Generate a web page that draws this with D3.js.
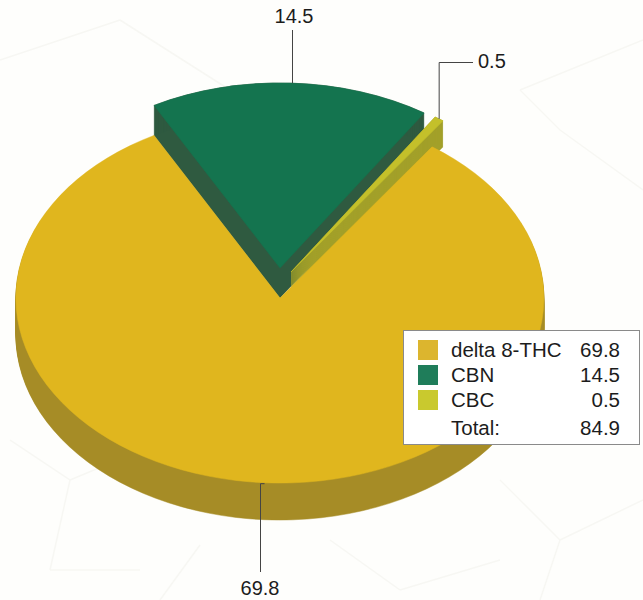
<!DOCTYPE html>
<html>
<head>
<meta charset="utf-8">
<script src="https://cdn.jsdelivr.net/npm/d3@7"></script>
<style>
  html, body { margin: 0; padding: 0; background: #fefefc; }
  text { font-family: "Liberation Sans", Arial, sans-serif; fill: #1c1c1c; }
</style>
</head>
<body>
<div id="chart"></div>
<script>
const categories = ["delta 8-THC", "CBN", "CBC"];
const values = [69.8, 14.5, 0.5];
const topColors = ["#e0b61e", "#14744f", "#c4c02a"];
const wallColors = ["#a68c26", "#2f5a40", "#a3a02a"];
const legendColors = ["#dcb52e", "#1f7d5a", "#c9c92e"];
const totalLabel = "Total:";
const totalValue = 84.9;

let width = 643, height = 600;
let svg = d3.select("#chart").append("svg")
    .attr("width", width)
    .attr("height", height);

// ellipse of the disc, squashed circle of radius 1
const cx = 280, cy = 298, rx = 264, ry = 185;
const thickness = 37;
// how far each slice stands above the disc, and its sideways shift
const raise = [0, 30, 26];
const shift = [0, 0, 11];

const startDeg = 35.2;
let pie = d3.pie().sort(null)
    .startAngle(startDeg * Math.PI / 180)
    .endAngle((startDeg + 360) * Math.PI / 180);
let slices = pie(values);
let arc = d3.arc().innerRadius(0).outerRadius(1);

// faint paper pattern behind the disc
const paperLines = [
    [0, 60, 120, 20], [120, 20, 230, 90], [230, 90, 130, 150], [520, 90, 643, 40],
    [560, 130, 643, 190], [520, 90, 560, 130], [10, 440, 70, 480], [70, 480, 130, 455],
    [70, 480, 50, 570], [50, 570, 140, 570], [200, 545, 160, 600], [330, 540, 400, 590],
    [400, 590, 500, 560], [500, 480, 560, 540], [560, 540, 643, 500], [560, 540, 540, 600]
];
svg.append("g").selectAll("line")
    .data(paperLines)
    .enter().append("line")
    .attr("x1", d => d[0]).attr("y1", d => d[1])
    .attr("x2", d => d[2]).attr("y2", d => d[3])
    .attr("stroke", "#f7f7f3")
    .attr("stroke-width", 1.5);

// thin stroke keeps the narrow tip of the smallest slice from fading out
function wedge(parent, d, color, x, y) {
    parent.append("path")
        .attr("d", arc(d))
        .attr("transform", `translate(${x},${y}) scale(${rx},${ry})`)
        .attr("fill", color)
        .attr("stroke", color)
        .attr("stroke-width", 0.5)
        .attr("vector-effect", "non-scaling-stroke");
}

// walls are built by stacking the wedge one pixel at a time
function drawWalls(i, from, to) {
    let g = svg.append("g");
    for (let y = from; y <= to; y++) {
        wedge(g, slices[i], wallColors[i], cx + shift[i], cy + y);
    }
}

drawWalls(0, 1, thickness);
drawWalls(1, -raise[1], 0);
wedge(svg, slices[1], topColors[1], cx, cy - raise[1]);
drawWalls(2, -raise[2], 0);
wedge(svg, slices[2], topColors[2], cx + shift[2], cy - raise[2]);
wedge(svg, slices[0], topColors[0], cx, cy);

// leader lines start at the middle of each slice's outer edge
function anchor(i) {
    let mid = (slices[i].startAngle + slices[i].endAngle) / 2;
    return [cx + shift[i] + rx * Math.sin(mid), cy - raise[i] - ry * Math.cos(mid)];
}

let leaders = svg.append("g")
    .attr("fill", "none")
    .attr("stroke", "#444")
    .attr("stroke-width", 1);
let labels = svg.append("g").attr("font-size", 20);

let a = anchor(0);
leaders.append("path").attr("d", `M${a[0]},${a[1] + 1}H260.5V572`);
labels.append("text").attr("x", 260).attr("y", 595).attr("text-anchor", "middle").text(values[0]);

a = anchor(1);
leaders.append("path").attr("d", `M292.5,${a[1]}V30`);
labels.append("text").attr("x", 294).attr("y", 23).attr("text-anchor", "middle").text(values[1]);

a = anchor(2);
leaders.append("path").attr("d", `M${a[0]},${a[1]}V62.5H473`);
labels.append("text").attr("x", 478).attr("y", 68).text(values[2]);

// legend box
let legend = svg.append("g");
legend.append("rect")
    .attr("x", 403.5).attr("y", 330.5)
    .attr("width", 236).attr("height", 114)
    .attr("fill", "#fff")
    .attr("stroke", "#8a8a8a");

const rowY = d3.scalePoint().domain(categories).range([357, 407]);
categories.forEach((c, i) => {
    legend.append("rect")
        .attr("x", 418).attr("y", rowY(c) - 17)
        .attr("width", 20).attr("height", 20)
        .attr("fill", legendColors[i]);
    legend.append("text")
        .attr("x", 451).attr("y", rowY(c))
        .attr("font-size", 20.5).text(c);
    legend.append("text")
        .attr("x", 620).attr("y", rowY(c))
        .attr("font-size", 20.5).attr("text-anchor", "end").text(values[i]);
});
legend.append("text").attr("x", 451).attr("y", 435).attr("font-size", 20.5).text(totalLabel);
legend.append("text").attr("x", 620).attr("y", 435).attr("font-size", 20.5)
    .attr("text-anchor", "end").text(totalValue);
</script>
</body>
</html>
